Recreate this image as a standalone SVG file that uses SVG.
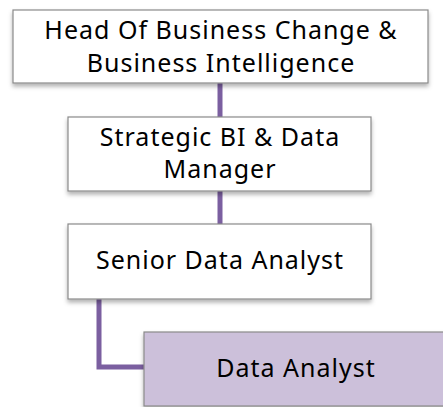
<svg xmlns="http://www.w3.org/2000/svg" width="443" height="407" viewBox="0 0 443 407">
<defs>
<style>
.box{fill:#ffffff;stroke:#8a8a8a;stroke-width:1.2;filter:url(#sh)}
.sel{fill:#ccc0da}
.t{font-family:"Noto Sans","Liberation Sans",sans-serif;font-size:25px;letter-spacing:1px;fill:#000;text-anchor:middle}
.c{fill:none;stroke:#7b5fa0;stroke-width:5}
</style>
<filter id="sh" x="-10%" y="-10%" width="120%" height="130%">
<feDropShadow dx="0" dy="3" stdDeviation="2" flood-color="#000" flood-opacity="0.3"/>
</filter>
</defs>
<g id="connectors">
<line class="c" x1="220" y1="83" x2="220" y2="117"/>
<line class="c" x1="220" y1="191" x2="220" y2="224"/>
<polyline class="c" points="99,299 99,367 144,367"/>
</g>
<g id="head">
<rect class="box" x="13" y="10" width="415" height="73"/>
<text class="t" x="221" y="39">Head Of Business Change &amp;</text>
<text class="t" x="221" y="72">Business Intelligence</text>
</g>
<g id="manager">
<rect class="box" x="68" y="117" width="303" height="74"/>
<text class="t" x="220" y="146">Strategic BI &amp; Data</text>
<text class="t" x="220" y="178">Manager</text>
</g>
<g id="senior">
<rect class="box" x="68" y="224" width="303" height="75"/>
<text class="t" x="220" y="269">Senior Data Analyst</text>
</g>
<g id="analyst">
<rect class="box sel" x="144" y="332" width="303" height="74"/>
<text class="t" x="296" y="377">Data Analyst</text>
</g>
</svg>
